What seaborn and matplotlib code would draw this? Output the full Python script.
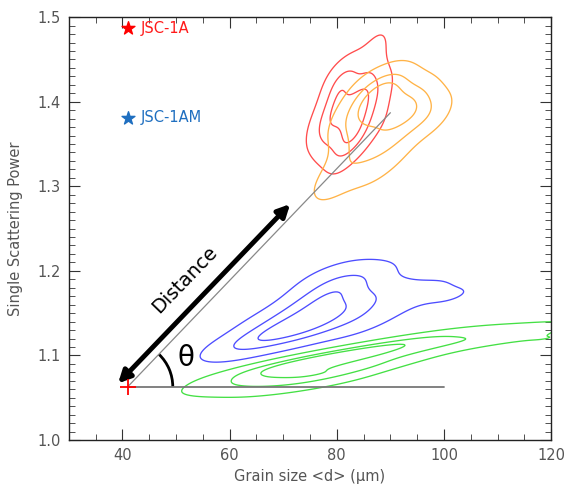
import numpy as np
import pandas as pd
import matplotlib
matplotlib.use("Agg")
import matplotlib.pyplot as plt
from matplotlib.patches import Arc
from matplotlib.ticker import MultipleLocator
import seaborn as sns


# -------------------- DATA --------------------
red_x = [82, 79, 85, 82, 82, 80, 84, 80, 84, 78, 86, 77, 87, 81, 83, 79, 85, 78,
         80, 76, 88, 86, 88, 87, 83, 81, 89, 84, 80, 83]
red_y = [1.39, 1.39, 1.39, 1.36, 1.42, 1.37, 1.41, 1.41, 1.37, 1.36, 1.42, 1.38,
         1.40, 1.34, 1.44, 1.42, 1.36, 1.345, 1.335, 1.36, 1.38, 1.45, 1.47, 1.43,
         1.35, 1.43, 1.42, 1.40, 1.39, 1.38]

orange_x = [88, 85, 91, 88, 88, 84, 92, 86, 90, 94, 83, 90, 86, 93, 96, 92, 89,
            97, 82, 80, 78, 84, 87, 95, 99, 85, 91, 81]
orange_y = [1.39, 1.38, 1.39, 1.36, 1.41, 1.36, 1.40, 1.40, 1.36, 1.39, 1.39,
            1.42, 1.35, 1.37, 1.40, 1.42, 1.42, 1.38, 1.34, 1.31, 1.30, 1.32,
            1.32, 1.41, 1.39, 1.415, 1.34, 1.37]

blue_x = [70, 73, 76, 79, 82, 75, 79, 82, 78, 81, 72, 75, 78, 68, 66, 63, 60, 85,
          84, 88, 97, 102, 80, 84, 67, 71, 76, 87]
blue_y = [1.13, 1.14, 1.15, 1.175, 1.185, 1.13, 1.145, 1.155, 1.165, 1.17, 1.15,
          1.165, 1.185, 1.125, 1.12, 1.112, 1.11, 1.195, 1.16, 1.175, 1.18,
          1.17, 1.20, 1.135, 1.14, 1.125, 1.13, 1.15]

green_x = [62, 64, 65, 67, 68, 70, 71, 73, 74, 76, 77, 79, 80, 82, 83, 85, 86, 88,
           90, 92, 94, 97, 101, 105, 110, 115, 120, 70, 78]
green_y = [1.07, 1.065, 1.08, 1.075, 1.085, 1.07, 1.09, 1.08, 1.095, 1.075, 1.09,
           1.10, 1.08, 1.095, 1.105, 1.085, 1.10, 1.11, 1.095, 1.115, 1.105, 1.12,
           1.115, 1.125, 1.12, 1.13, 1.12, 1.062, 1.067]

ref_names = ["JSC-1A", "JSC-1AM"]
ref_x = [41, 41]
ref_y = [1.487, 1.381]

origin = (41, 1.063)
dist_end = (90, 1.387)
horiz_end = 100


# -------------------- PLOT --------------------
sns.set_style("ticks")
plt.rcParams["font.family"] = ["DejaVu Sans"]

fig = plt.figure(figsize=(5.73, 4.90), dpi=100)
ax = fig.add_axes([0.120, 0.102, 0.842, 0.863])

clusters = [
    (red_x, red_y, "#ff4d4d"),
    (orange_x, orange_y, "#ffb347"),
    (blue_x, blue_y, "#4d4dff"),
    (green_x, green_y, "#44e044"),
]
for cx, cy, col in clusters:
    df = pd.DataFrame({"x": cx, "y": cy})
    sns.kdeplot(data=df, x="x", y="y", levels=[0.12, 0.45, 0.75],
                bw_adjust=1.0, colors=col, linewidths=0.95, ax=ax)

# reference samples
ax.scatter(ref_x[0], ref_y[0], marker="*", s=95, color="#ff0000", zorder=5)
ax.scatter(ref_x[1], ref_y[1], marker="*", s=95, color="#1f6fc0", zorder=5)
ax.text(43.4, ref_y[0], ref_names[0], color="#ff1a1a", fontsize=10.5, va="center")
ax.text(43.4, ref_y[1], ref_names[1], color="#1f6fc0", fontsize=10.5, va="center")

# geometry
ax.plot([origin[0], dist_end[0]], [origin[1], dist_end[1]], color="#888888", lw=0.9)
ax.plot([origin[0], horiz_end], [origin[1], origin[1]], color="#777777", lw=1.3)
ax.scatter(origin[0], origin[1], marker="+", s=120, color="red", lw=1.3, zorder=6)

ax.annotate("", xy=(39.2, 1.067), xytext=(71.3, 1.279),
            arrowprops=dict(arrowstyle="<|-|>", lw=3.5, color="black",
                            mutation_scale=18, shrinkA=0, shrinkB=0))
ax.text(51.6, 1.19, "Distance", rotation=46, rotation_mode="anchor",
        ha="center", va="center", fontsize=14, color="black")
ax.text(51.8, 1.097, "θ", fontsize=20, ha="center", va="center", color="black")

# arc is a circle on screen, so stretch the end angle into data space
rx, ry = 8.4, 0.0532
end = np.degrees(np.arctan(np.tan(np.radians(46)) * ry / rx))
ax.add_patch(Arc(origin, width=2 * rx, height=2 * ry, theta1=0, theta2=end,
                 color="black", lw=2))

ax.set_xlim(30, 120)
ax.set_ylim(1.0, 1.5)
ax.xaxis.set_major_locator(MultipleLocator(20))
ax.xaxis.set_minor_locator(MultipleLocator(5))
ax.yaxis.set_major_locator(MultipleLocator(0.1))
ax.yaxis.set_minor_locator(MultipleLocator(0.01))
ax.yaxis.set_major_formatter(plt.FormatStrFormatter("%.1f"))
ax.tick_params(which="both", direction="in", top=True, right=True,
               colors="#333333", labelcolor="#555555", labelsize=10.5)
ax.tick_params(which="major", length=8, pad=6)
ax.tick_params(which="minor", length=4)
for s in ax.spines.values():
    s.set_color("#222222")
    s.set_linewidth(1)

ax.set_xlabel("Grain size <d> (μm)", color="#555555", fontsize=10.5)
ax.set_ylabel("Single Scattering Power", color="#555555", fontsize=10.5, labelpad=10)

fig.savefig("out.png", dpi=100)
